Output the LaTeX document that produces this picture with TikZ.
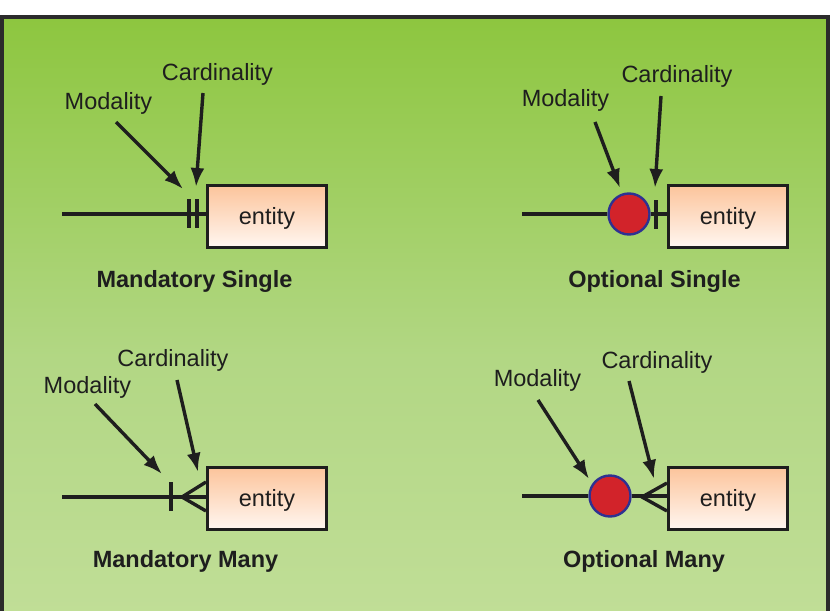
\documentclass[tikz,border=0pt]{standalone}
\usepackage{fontspec}
\setmainfont{Liberation Sans}
\usetikzlibrary{arrows.meta}
\definecolor{frameC}{HTML}{2B2B2B}
\definecolor{gTop}{HTML}{8DC63F}
\definecolor{gMid}{HTML}{B2D784}
\definecolor{gBot}{HTML}{C5E09D}
\definecolor{pTop}{HTML}{FCC49B}
\definecolor{pBot}{HTML}{FFF6F0}
\definecolor{dotRed}{HTML}{D2232A}
\definecolor{dotBlue}{HTML}{2E3192}
\definecolor{inkC}{HTML}{1E1E1E}
\tikzset{
  lbl/.style={inner sep=0pt, anchor=base, font=\fontsize{23.5}{28}\selectfont, text=inkC},
  ttl/.style={inner sep=0pt, anchor=base, font=\fontsize{23.5}{28}\selectfont\bfseries, text=inkC},
  ent/.style={draw=inkC, line width=3pt, top color=pTop, bottom color=pBot,
    minimum width=119pt, minimum height=62pt, inner sep=0pt, text depth=0pt,
    font=\fontsize{23.5}{28}\selectfont, text=inkC},
  dot/.style={circle, draw=dotBlue, line width=2.4pt, fill=dotRed, minimum size=41pt, inner sep=0pt},
  rel/.style={draw=inkC, line width=3.4pt},
  tick/.style={draw=inkC, line width=3.2pt},
  ptr/.style={draw=inkC, line width=3.4pt, -{Latex[length=19pt,width=14pt]}},
}
\begin{document}
\begin{tikzpicture}[x=1pt,y=-1pt]
\useasboundingbox (0,0) rectangle (832,610);
\begin{scope}
\clip (0,0) rectangle (832,610);
\shade[top color=gTop, bottom color=gBot, middle color=gMid] (2,17) rectangle (828,700);
\draw[frameC, line width=3.5pt] (2,700) -- (2,17) -- (828,17) -- (828,700);
\end{scope}

% ---------- Panel 1: Mandatory Single ----------
\node[ent] (e1) at (267,216) {entity};
\coordinate (s1) at (62,214);
\draw[rel] (s1) -- (e1.west |- s1);
\coordinate (b1a) at (189,199); \coordinate (b1b) at (189,228);
\coordinate (b1c) at (197,199); \coordinate (b1d) at (197,228);
\draw[tick] (b1a) -- (b1b);
\draw[tick] (b1c) -- (b1d);
\node[lbl] (c1) at (217.5,80) {Cardinality};
\node[lbl] (m1) at (108.5,109) {Modality};
\coordinate (m1s) at (116,122); \coordinate (m1t) at (183,189);
\coordinate (c1s) at (203,93); \coordinate (c1t) at (196,187);
\draw[ptr] (m1s) -- (m1t);
\draw[ptr] (c1s) -- (c1t);
\node[ttl] (t1) at (194.5,287) {Mandatory Single};

% ---------- Panel 2: Optional Single ----------
\node[ent] (e2) at (728,216) {entity};
\node[dot] (d2) at (629,214) {};
\coordinate (s2) at (522,214);
\draw[rel] (s2) -- (d2.west);
\draw[rel] (d2.east) -- (e2.west |- d2.east);
\coordinate (b2a) at (656,200); \coordinate (b2b) at (656,229);
\draw[tick] (b2a) -- (b2b);
\node[lbl] (c2) at (677,82) {Cardinality};
\node[lbl] (m2) at (565.5,106) {Modality};
\coordinate (m2s) at (595,122); \coordinate (m2t) at (620,188);
\coordinate (c2s) at (661,96); \coordinate (c2t) at (655,188);
\draw[ptr] (m2s) -- (m2t);
\draw[ptr] (c2s) -- (c2t);
\node[ttl] (t2) at (654.5,287) {Optional Single};

% ---------- Panel 3: Mandatory Many ----------
\node[ent] (e3) at (267,498) {entity};
\coordinate (s3) at (62,497);
\coordinate (a3) at (182,497);
\draw[rel] (s3) -- (e3.west |- s3);
\coordinate (b3a) at (171,482); \coordinate (b3b) at (171,511);
\draw[tick] (b3a) -- (b3b);
\coordinate (f3u) at (206,482); \coordinate (f3d) at (206,511);
\draw[rel] (f3u) -- (a3) -- (f3d);
\node[lbl] (c3) at (173,366) {Cardinality};
\node[lbl] (m3) at (87.5,393) {Modality};
\coordinate (m3s) at (95,404); \coordinate (m3t) at (162,474);
\coordinate (c3s) at (177,380); \coordinate (c3t) at (198,472);
\draw[ptr] (m3s) -- (m3t);
\draw[ptr] (c3s) -- (c3t);
\node[ttl] (t3) at (185.5,567) {Mandatory Many};

% ---------- Panel 4: Optional Many ----------
\node[ent] (e4) at (728,498) {entity};
\node[dot] (d4) at (610,496) {};
\coordinate (s4) at (522,496);
\coordinate (a4) at (642,497);
\draw[rel] (s4) -- (d4.west);
\draw[rel] (d4.east) -- (e4.west |- d4.east);
\coordinate (f4u) at (667,483); \coordinate (f4d) at (667,511);
\draw[rel] (f4u) -- (a4) -- (f4d);
\node[lbl] (c4) at (657,368) {Cardinality};
\node[lbl] (m4) at (537.5,386) {Modality};
\coordinate (m4s) at (538,400); \coordinate (m4t) at (589,479);
\coordinate (c4s) at (629,381); \coordinate (c4t) at (654,479);
\draw[ptr] (m4s) -- (m4t);
\draw[ptr] (c4s) -- (c4t);
\node[ttl] (t4) at (644,567) {Optional Many};
\end{tikzpicture}
\end{document}
